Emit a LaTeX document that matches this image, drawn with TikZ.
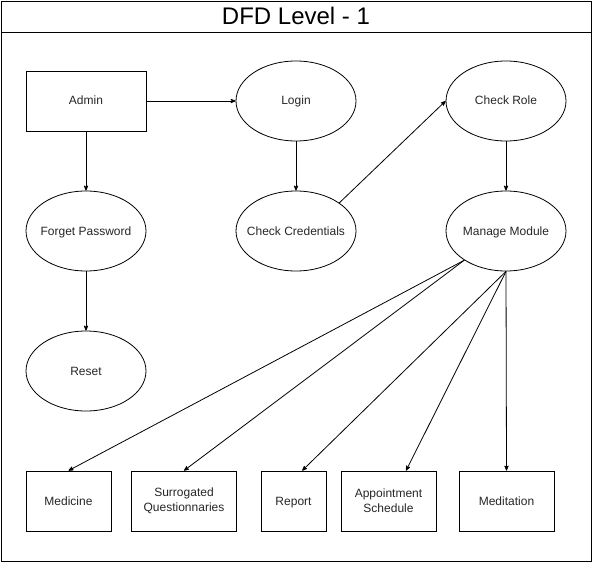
\documentclass[tikz,border=0pt]{standalone}
\usepackage{fontspec}
\setmainfont{Liberation Sans}
\usepackage{tikz}
\usetikzlibrary{shapes,arrows}
\usetikzlibrary{positioning}

\begin{document}
\begin{tikzpicture}[x=1pt,y=-1pt,line width=0.8pt,>=stealth',
    proc/.style={draw,ellipse,minimum width=120pt,minimum height=80pt,inner sep=0pt,
      inner xsep=-25pt,text height=10pt,text depth=2pt,
      font=\fontsize{12}{15}\selectfont,text=black!85},
    ent/.style={draw,rectangle,minimum height=60pt,inner sep=0pt,align=center,
      font=\fontsize{12}{15}\selectfont,text=black!85},
    oneline/.style={text height=10pt,text depth=2pt}]
     \useasboundingbox (0,0) rectangle (593,564);
     % frame and title
     \draw (1,1) rectangle (591,561);
     \draw (1,32) -- (591,32);
     \node (title) at (296,16) {\fontsize{24}{28}\selectfont DFD Level - 1};
     % top rows
     \node[ent,oneline,minimum width=120pt] (admin) at (86,101) {Admin};
     \node[proc] (login) at (296,101) {Login};
     \node[proc] (role) at (506,101) {Check Role};
     \node[proc] (forget) at (86,231) {Forget Password};
     \node[proc] (cred) at (296,231) {Check Credentials};
     \node[proc] (manage) at (506,231) {Manage Module};
     \node[proc] (reset) at (86,371) {Reset};
     % modules
     \node[ent,oneline,minimum width=85pt] (medicine) at (68.5,501) {Medicine};
     \node[ent,minimum width=105pt] (survey) at (184,501) {Surrogated\\Questionnaries};
     \node[ent,oneline,minimum width=65pt] (report) at (293.5,501) {Report};
     \node[ent,minimum width=95pt] (appoint) at (388.5,501) {Appointment\\Schedule};
     \node[ent,oneline,minimum width=95pt] (meditate) at (506.5,501) {Meditation};
     % flows
     \draw[->] (admin.east) -- (login.west);
     \draw[->] (admin) -- (forget);
     \draw[->] (forget) -- (reset);
     \draw[->] (login) -- (cred);
     \draw[->] (cred.33) -- (role.west);
     \draw[->] (role) -- (manage);
     \draw[->] (manage.215) -- (medicine.north);
     \draw[->] (manage.215) -- (survey.north);
     \draw[->] (manage.south) -- (report.74);
     \draw[->] (manage.south) -- (appoint.60);
     \draw[->] (manage.south) -- (meditate.north);
\end{tikzpicture}
\end{document}
